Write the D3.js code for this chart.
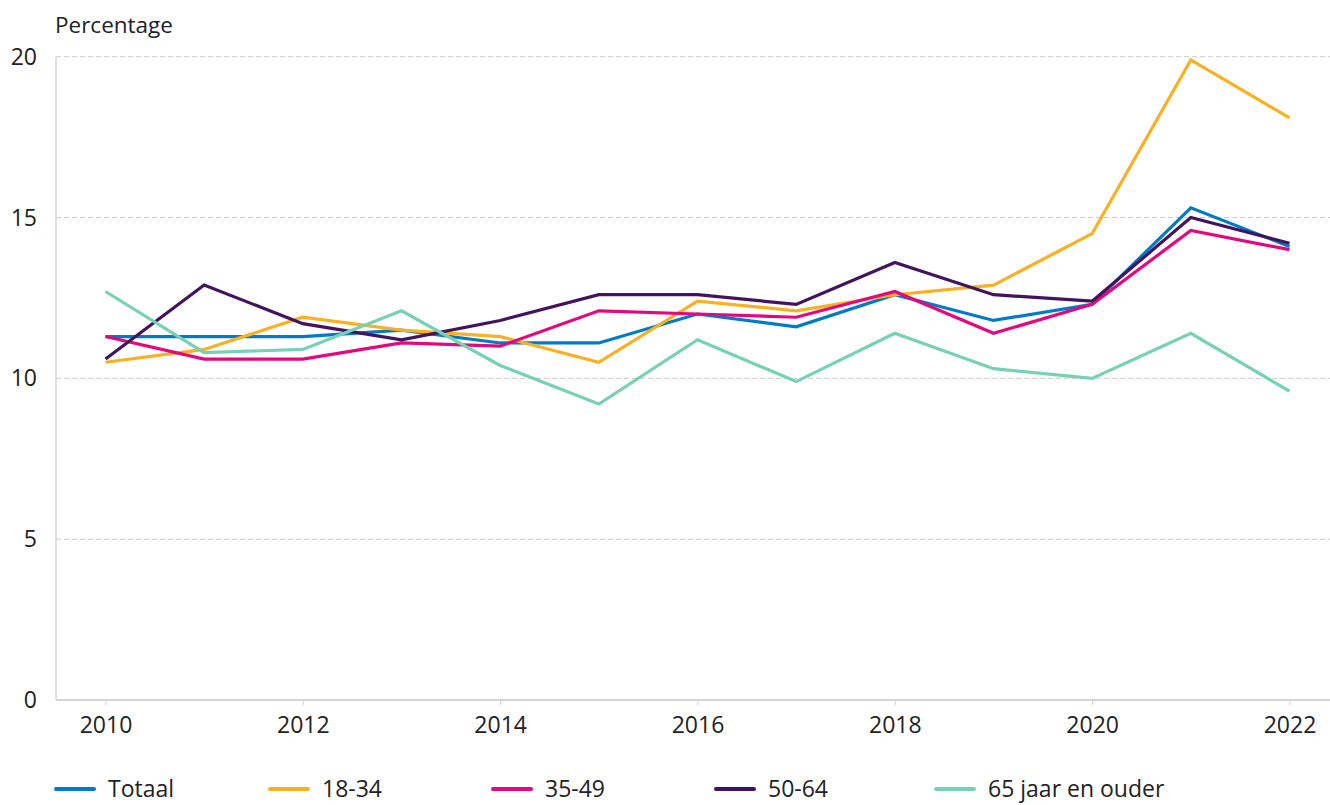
<!DOCTYPE html>
<html>
<head>
<meta charset="utf-8">
<script src="https://cdn.jsdelivr.net/npm/d3@7"></script>
<style>
  body { margin: 0; background: #fff; }
  svg { font-family: "Open Sans", "Noto Sans", sans-serif; }
</style>
</head>
<body>
<div id="chart"></div>
<script>
// jaren en reeksen (percentages)
var years = [2010, 2011, 2012, 2013, 2014, 2015, 2016, 2017, 2018, 2019, 2020, 2021, 2022];
var totaal   = [11.3, 11.3, 11.3, 11.5, 11.1, 11.1, 12.0, 11.6, 12.6, 11.8, 12.3, 15.3, 14.1];
var age18_34 = [10.5, 10.9, 11.9, 11.5, 11.3, 10.5, 12.4, 12.1, 12.6, 12.9, 14.5, 19.9, 18.1];
var age35_49 = [11.3, 10.6, 10.6, 11.1, 11.0, 12.1, 12.0, 11.9, 12.7, 11.4, 12.3, 14.6, 14.0];
var age50_64 = [10.6, 12.9, 11.7, 11.2, 11.8, 12.6, 12.6, 12.3, 13.6, 12.6, 12.4, 15.0, 14.2];
var age65    = [12.7, 10.8, 10.9, 12.1, 10.4, 9.2, 11.2, 9.9, 11.4, 10.3, 10.0, 11.4, 9.6];

var seriesNames = ["Totaal", "18-34", "35-49", "50-64", "65 jaar en ouder"];
var seriesValues = [totaal, age18_34, age35_49, age50_64, age65];
var colors = ["#007bc7", "#f9b122", "#e5077e", "#42145f", "#76d2b6"];

var yTicks = [0, 5, 10, 15, 20];
var xTicks = [2010, 2012, 2014, 2016, 2018, 2020, 2022];

var width = 1330,
    height = 805;
var margin = {left: 56, right: 0, top: 56.7, bottom: 105};
// horizontale plek van elk legenda-item
var legendOffsets = [54, 268, 491, 714, 934];

var svg = d3.select("#chart")
  .append("svg")
    .attr("width", width)
    .attr("height", height);

var x = d3.scaleLinear()
  .domain([2010, 2022])
  .range([105.5, 1289.5]);

var y = d3.scaleLinear()
  .domain([0, 20])
  .range([700, margin.top]);

// gridlijnen
svg.append("g")
  .selectAll("line")
  .data(yTicks.filter(function(d){ return d > 0; }))
  .enter()
  .append("line")
    .attr("x1", margin.left)
    .attr("x2", width)
    .attr("y1", function(d){ return y(d); })
    .attr("y2", function(d){ return y(d); })
    .attr("stroke", "#cccccc")
    .attr("stroke-width", 1)
    .attr("stroke-dasharray", "5,3");

// y-as lijn
svg.append("line")
  .attr("x1", margin.left).attr("x2", margin.left)
  .attr("y1", y(20)).attr("y2", y(0))
  .attr("stroke", "#d4d4d4")
  .attr("stroke-width", 1.5);

// y labels
svg.append("g")
  .selectAll("text")
  .data(yTicks)
  .enter()
  .append("text")
    .attr("x", 37)
    .attr("y", function(d){ return y(d); })
    .attr("dy", "0.35em")
    .attr("text-anchor", "end")
    .attr("font-size", "23px")
    .attr("fill", "#222")
    .text(function(d){ return d; });

svg.append("text")
  .attr("x", 55)
  .attr("y", 33)
  .attr("font-size", "22.5px")
  .attr("fill", "#222")
  .text("Percentage");

// x-as
var xAxis = d3.axisBottom(x)
  .tickValues(xTicks)
  .tickFormat(d3.format("d"))
  .tickSize(5)
  .tickPadding(12);

var gx = svg.append("g")
  .attr("transform", "translate(0," + y(0) + ")")
  .call(xAxis);
gx.select(".domain").remove();
gx.append("line")
  .attr("x1", margin.left)
  .attr("x2", width)
  .attr("stroke", "#d4d4d4")
  .attr("stroke-width", 2);
gx.selectAll(".tick line").attr("stroke", "#d4d4d4");
gx.selectAll(".tick text")
  .attr("font-family", "\"Open Sans\", \"Noto Sans\", sans-serif")
  .attr("font-size", "23px")
  .attr("fill", "#222");

// lijnen
var line = d3.line()
  .x(function(d, i){ return x(years[i]); })
  .y(function(d){ return y(d); });

svg.append("g")
  .selectAll("path")
  .data(seriesValues)
  .enter()
  .append("path")
    .attr("d", function(d){ return line(d); })
    .attr("fill", "none")
    .attr("stroke", function(d, i){ return colors[i]; })
    .attr("stroke-width", 3.2)
    .attr("stroke-linejoin", "miter");

// legenda
var legend = svg.append("g")
  .selectAll("g")
  .data(seriesNames)
  .enter()
  .append("g")
    .attr("transform", function(d, i){ return "translate(" + legendOffsets[i] + ",789)"; });

legend.append("line")
  .attr("x1", 2).attr("x2", 40)
  .attr("stroke", function(d, i){ return colors[i]; })
  .attr("stroke-width", 4)
  .attr("stroke-linecap", "round");

legend.append("text")
  .attr("x", 54)
  .attr("y", 8)
  .attr("font-size", "23px")
  .attr("fill", "#222")
  .text(function(d){ return d; });
</script>
</body>
</html>
